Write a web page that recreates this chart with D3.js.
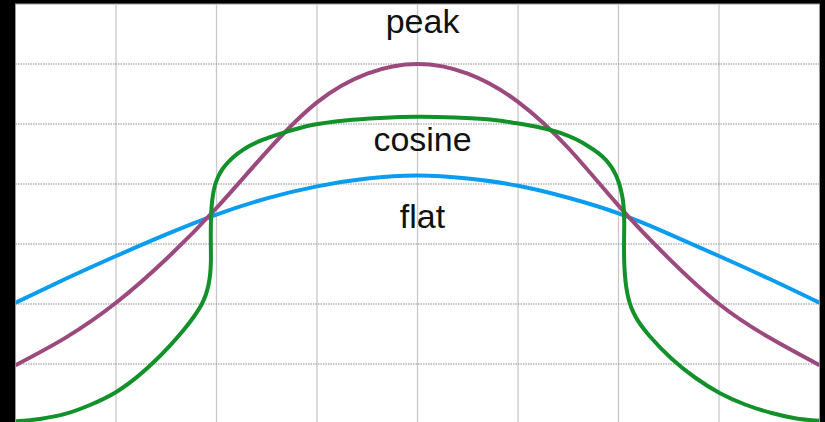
<!DOCTYPE html>
<html>
<head>
<meta charset="utf-8">
<script src="https://cdn.jsdelivr.net/npm/d3@7"></script>
<style>
  html, body { margin: 0; padding: 0; background: #000; }
  svg { display: block; }
</style>
</head>
<body>
<svg id="chart" width="825" height="422"></svg>
<script>
// x positions (grid units) for the sampled series
const xs = [0, 0.5, 1, 1.5, 2, 2.5, 3, 3.5, 4, 4.5, 5, 5.5, 6, 6.5, 7, 7.5, 8];
const peakValues = [0.98, 1.44, 2.02, 2.75, 3.6, 4.54, 5.36, 5.84, 6.0, 5.84, 5.37, 4.6, 3.64, 2.76, 2.0, 1.44, 0.98];
const flatValues = [2.02, 2.42, 2.8, 3.16, 3.49, 3.76, 3.96, 4.09, 4.14, 4.09, 3.97, 3.77, 3.51, 3.17, 2.8, 2.42, 2.02];
// cosine curve is a traced path: x and y
const cosineX = [0.005, 0.244, 0.502, 0.741, 0.99, 1.189, 1.371, 1.537, 1.677, 1.776, 1.846, 1.891, 1.92, 1.937, 1.944, 1.944, 1.943,
                 1.945, 1.951, 1.963, 1.983, 2.015, 2.06, 2.119, 2.204, 2.313, 2.463, 2.632, 2.801, 2.963, 3.279, 3.627, 4.0,
                 4.373, 4.721, 4.97, 5.219, 5.435, 5.577, 5.699, 5.796, 5.871, 5.925, 5.968, 6.001, 6.025, 6.043, 6.053, 6.057,
                 6.056, 6.055, 6.057, 6.064, 6.077, 6.098, 6.129, 6.169, 6.219, 6.313, 6.529, 6.761, 7.01, 7.259, 7.524, 7.756, 7.995];
const cosineY = [0.045, 0.085, 0.172, 0.317, 0.522, 0.757, 1.025, 1.308, 1.575, 1.792, 1.975, 2.142, 2.317, 2.5, 2.7, 2.933, 3.167,
                 3.4, 3.617, 3.8, 3.967, 4.117, 4.25, 4.37, 4.497, 4.62, 4.738, 4.837, 4.92, 4.987, 5.058, 5.1, 5.12,
                 5.108, 5.075, 5.017, 4.942, 4.845, 4.745, 4.63, 4.52, 4.408, 4.292, 4.167, 4.033, 3.892, 3.742, 3.567, 3.367,
                 3.15, 2.933, 2.7, 2.483, 2.283, 2.1, 1.933, 1.792, 1.658, 1.458, 1.088, 0.775, 0.513, 0.325, 0.183, 0.097, 0.053];
const labels = ["peak", "cosine", "flat"];
const labelX = [4.05, 4.05, 4.05];
const labelY = [6.52, 4.55, 3.27];
const xGrid = [1, 2, 3, 4, 5, 6, 7];
const yGrid = [1, 2, 3, 4, 5, 6];

const colors = { peak: "#9c4a7e", cosine: "#12902a", flat: "#0a9cee" };

const svg = d3.select("#chart");
const x = d3.scaleLinear().domain([0, 8]).range([15.5, 819.5]);
const y = d3.scaleLinear().domain([0, 7]).range([424, 4]);

// plot background
svg.append("rect")
  .attr("x", x(0)).attr("y", y(7))
  .attr("width", x(8) - x(0)).attr("height", y(0) - y(7))
  .attr("fill", "#fff")
  .attr("stroke", "#9a9a9a").attr("stroke-width", 1);

// vertical grid (solid)
svg.append("g").selectAll("line").data(xGrid).join("line")
  .attr("x1", d => x(d)).attr("x2", d => x(d))
  .attr("y1", y(7)).attr("y2", y(0))
  .attr("stroke", "#c8c8c8").attr("stroke-width", 1.3);

// horizontal grid (dotted)
svg.append("g").selectAll("line").data(yGrid).join("line")
  .attr("x1", x(0)).attr("x2", x(8))
  .attr("y1", d => y(d)).attr("y2", d => y(d))
  .attr("stroke", "#8f8f8f").attr("stroke-width", 1)
  .attr("stroke-dasharray", "1.5,1");

svg.append("clipPath").attr("id", "plotclip")
  .append("rect").attr("x", x(0)).attr("y", y(7))
  .attr("width", x(8) - x(0)).attr("height", y(0) - y(7));

const g = svg.append("g").attr("clip-path", "url(#plotclip)");

const smooth = d3.line().x(d => x(d[0])).y(d => y(d[1])).curve(d3.curveNatural);
const traced = d3.line().x(d => x(d[0])).y(d => y(d[1])).curve(d3.curveCatmullRom.alpha(0.5));

g.append("path")
  .attr("d", smooth(xs.map((v, i) => [v, flatValues[i]])))
  .attr("fill", "none").attr("stroke", colors.flat).attr("stroke-width", 4);

g.append("path")
  .attr("d", smooth(xs.map((v, i) => [v, peakValues[i]])))
  .attr("fill", "none").attr("stroke", colors.peak).attr("stroke-width", 4);

g.append("path")
  .attr("d", traced(cosineX.map((v, i) => [v, cosineY[i]])))
  .attr("fill", "none").attr("stroke", colors.cosine).attr("stroke-width", 4)
  .attr("stroke-linejoin", "round");

svg.append("g").selectAll("text").data(labels).join("text")
  .attr("x", (d, i) => x(labelX[i]))
  .attr("y", (d, i) => y(labelY[i]))
  .attr("text-anchor", "middle")
  .attr("font-family", "Liberation Sans, Arial, sans-serif")
  .attr("font-size", 34)
  .attr("fill", "#111")
  .text(d => d);
</script>
</body>
</html>
